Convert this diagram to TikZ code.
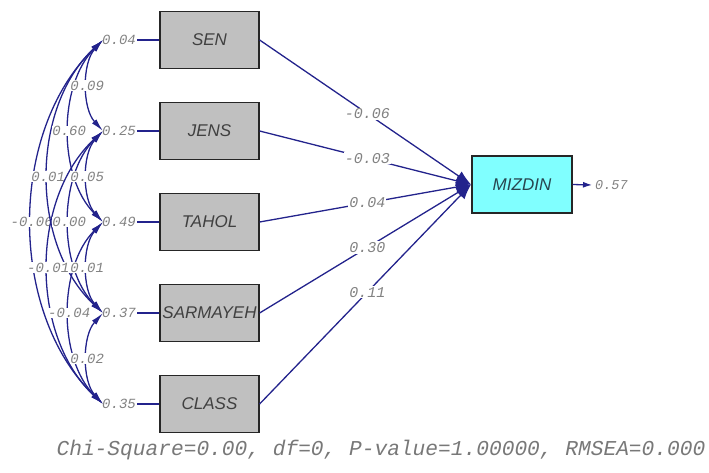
\documentclass[tikz,border=0pt]{standalone}
\usepackage{fontspec}
\setmainfont{Liberation Sans}
\newfontfamily\monofont{Liberation Mono}
\usetikzlibrary{arrows.meta}
\definecolor{navyline}{RGB}{35,35,140}
\definecolor{lblgrey}{RGB}{130,130,130}
\definecolor{boxgrey}{RGB}{192,192,192}
\definecolor{cyanbox}{RGB}{128,255,255}
\begin{document}
\begin{tikzpicture}[x=1pt,y=-1pt,
  obs/.style={draw=black!85, line width=1.2pt, fill=boxgrey, minimum width=99pt, minimum height=57pt, inner sep=0pt, font=\fontsize{17}{17}\selectfont\itshape, text=black!75},
  endo/.style={obs, fill=cyanbox, minimum width=100pt, text={rgb,255:red,40;green,70;blue,80}},
  varlbl/.style={font=\monofont\itshape\fontsize{14}{14}\selectfont, text=lblgrey, inner sep=1pt, anchor=west},
  covlbl/.style={font=\monofont\itshape\fontsize{14}{14}\selectfont, text=lblgrey, fill=white, inner sep=0.5pt},
  plbl/.style={font=\monofont\itshape\fontsize{15}{15}\selectfont, text=lblgrey, fill=white, inner sep=1pt},
  link/.style={draw=navyline, line width=1.3pt},
  cov/.style={draw=navyline, line width=1.3pt, {Latex[length=13pt,width=6pt]}-{Latex[length=13pt,width=6pt]}},
  pth/.style={draw=navyline, line width=1.3pt, -{Latex[length=15pt,width=11pt]}},
]
\useasboundingbox (0,0) rectangle (709,473);

% observed exogenous variables
\node[obs] (SEN) at (209.5,40) {SEN};
\node[obs] (JENS) at (209.5,131) {JENS};
\node[obs] (TAHOL) at (209.5,222) {TAHOL};
\node[obs] (SAR) at (209.5,313) {SARMAYEH};
\node[obs] (CLASS) at (209.5,404) {CLASS};

% endogenous
\node[endo] (MIZ) at (522,184.5) {MIZDIN};
\coordinate (hub) at (471,184.5);

% variance labels
\node[varlbl] (e1) at (101,40) {0.04};
\node[varlbl] (e2) at (101,131) {0.25};
\node[varlbl] (e3) at (101,222) {0.49};
\node[varlbl] (e4) at (101,313) {0.37};
\node[varlbl] (e5) at (101,404) {0.35};
\draw[link] (e1) -- (SEN);
\draw[link] (e2) -- (JENS);
\draw[link] (e3) -- (TAHOL);
\draw[link] (e4) -- (SAR);
\draw[link] (e5) -- (CLASS);

\coordinate (c1) at (103,40);
\coordinate (c2) at (103,131);
\coordinate (c3) at (103,222);
\coordinate (c4) at (103,313);
\coordinate (c5) at (103,404);

% covariances
\draw[cov] (c1) .. controls (8,131) and (8,313) .. node[covlbl,pos=0.5]{-0.06} (c5);
\draw[cov] (c1) .. controls (30,108) and (30,245) .. node[covlbl,pos=0.5]{0.01} (c4);
\draw[cov] (c2) .. controls (30,199) and (30,336) .. node[covlbl,pos=0.5]{-0.01} (c5);
\draw[cov] (c1) .. controls (58,85) and (58,177) .. node[covlbl,pos=0.5]{0.60} (c3);
\draw[cov] (c2) .. controls (58,176) and (58,268) .. node[covlbl,pos=0.5]{0.00} (c4);
\draw[cov] (c3) .. controls (58,267) and (58,359) .. node[covlbl,pos=0.5]{-0.04} (c5);
\draw[cov] (c1) .. controls (82,63) and (82,108) .. node[covlbl,pos=0.5]{0.09} (c2);
\draw[cov] (c2) .. controls (82,154) and (82,199) .. node[covlbl,pos=0.5]{0.05} (c3);
\draw[cov] (c3) .. controls (82,245) and (82,290) .. node[covlbl,pos=0.5]{0.01} (c4);
\draw[cov] (c4) .. controls (82,336) and (82,381) .. node[covlbl,pos=0.5]{0.02} (c5);

% paths
\draw[pth] (SEN.east) -- node[plbl,pos=0.51]{-0.06} (hub);
\draw[pth] (JENS.east) -- node[plbl,pos=0.51]{-0.03} (hub);
\draw[pth] (TAHOL.east) -- node[plbl,pos=0.51]{0.04} (hub);
\draw[pth] (SAR.east) -- node[plbl,pos=0.51]{0.30} (hub);
\draw[pth] (CLASS.east) -- node[plbl,pos=0.51]{0.11} (hub);

% error of MIZDIN
\coordinate (err) at (592,185);
\draw[link, -{Latex[length=9pt,width=6pt]}] (MIZ.east) -- (err);
\node[varlbl, font=\monofont\itshape\fontsize{13.5}{13.5}\selectfont] (eM) at (594,185) {0.57};

% fit statistics
\node[font=\monofont\itshape\fontsize{21.2}{21.2}\selectfont, text={rgb,255:red,120;green,120;blue,120}, inner sep=0pt] (fit) at (381,450) {Chi-Square=0.00, df=0, P-value=1.00000, RMSEA=0.000};
\end{tikzpicture}
\end{document}
